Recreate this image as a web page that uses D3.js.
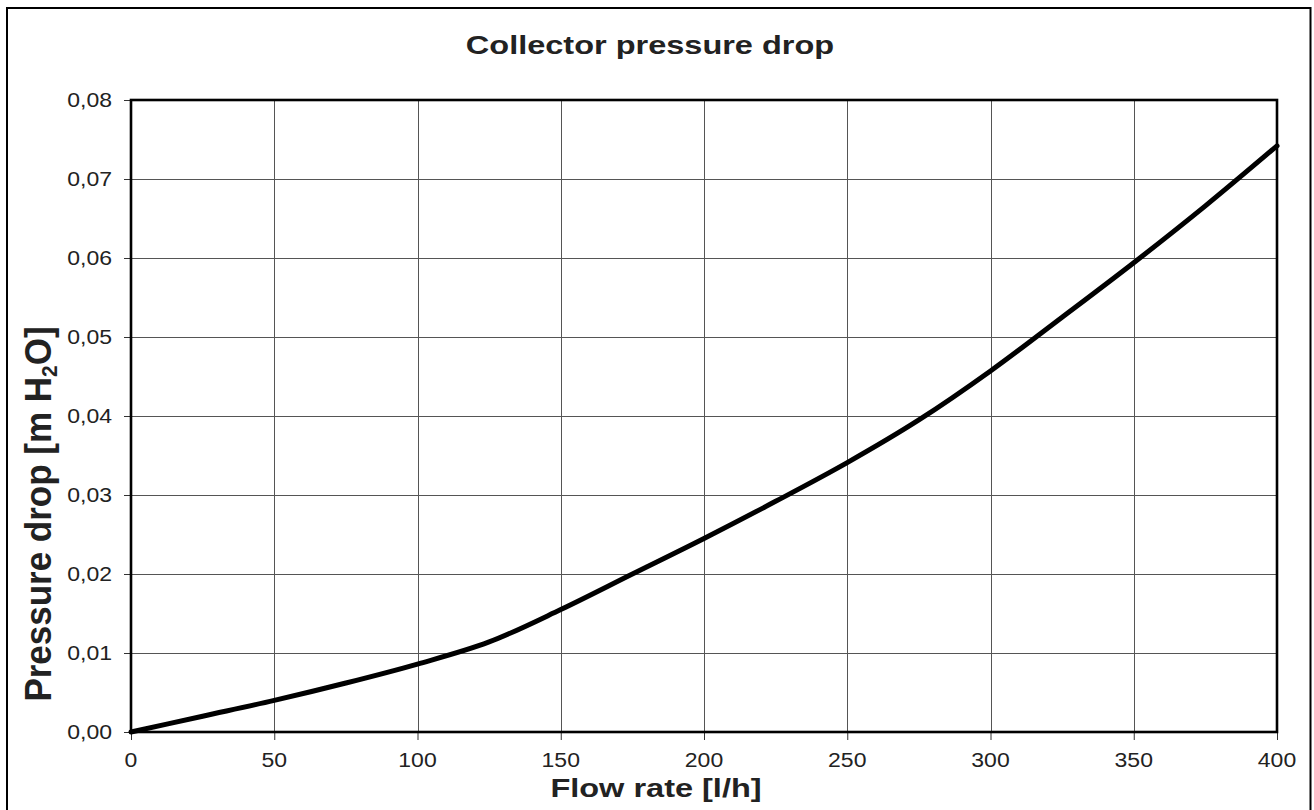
<!DOCTYPE html>
<html>
<head>
<meta charset="utf-8">
<script src="https://cdn.jsdelivr.net/npm/d3@7"></script>
<style>
  body { margin: 0; background: #fff; }
  svg { display: block; font-family: "Liberation Sans", Arial, sans-serif; }
</style>
</head>
<body>
<svg id="chart"></svg>
<script>
// values
const flowRate = [0, 25, 50, 75, 100, 125, 150, 175, 200, 225, 250, 275, 300, 325, 350, 375, 400];
const pressureDrop = [0, 0.0020, 0.0040, 0.0062, 0.0086, 0.0114, 0.0155, 0.0200, 0.0245, 0.0292, 0.0341, 0.0395, 0.0457, 0.0525, 0.0594, 0.0666, 0.0742];
const xTicks = [0, 50, 100, 150, 200, 250, 300, 350, 400];
const yTicks = [0, 0.01, 0.02, 0.03, 0.04, 0.05, 0.06, 0.07, 0.08];

const width = 1314, height = 810;
const plot = {left: 131, right: 1277, top: 100, bottom: 732};
const stretch = 1.25; // text in the picture is wider than normal

const svg = d3.select('#chart').attr('width', width).attr('height', height);

// outer frame
svg.append('rect')
  .attr('x', 7).attr('y', 8)
  .attr('width', 1303.5).attr('height', 840)
  .attr('fill', 'none').attr('stroke', '#000').attr('stroke-width', 2);

const x = d3.scaleLinear().domain([0, 400]).range([plot.left, plot.right]);
const y = d3.scaleLinear().domain([0, 0.08]).range([plot.bottom, plot.top]);

const fmt = d3.formatLocale({decimal: ',', thousands: '.', grouping: [3], currency: ['', '']}).format('.2f');

// grid
svg.append('g').selectAll('line.vg')
  .data(xTicks.slice(1, -1))
  .join('line')
    .attr('x1', d => Math.round(x(d)) + 0.5).attr('x2', d => Math.round(x(d)) + 0.5)
    .attr('y1', plot.top).attr('y2', plot.bottom)
    .attr('stroke', '#555').attr('stroke-width', 1);
svg.append('g').selectAll('line.hg')
  .data(yTicks.slice(1, -1))
  .join('line')
    .attr('y1', d => Math.round(y(d)) + 0.5).attr('y2', d => Math.round(y(d)) + 0.5)
    .attr('x1', plot.left).attr('x2', plot.right)
    .attr('stroke', '#555').attr('stroke-width', 1);

// tick marks via d3 axes (labels drawn by hand so they can be stretched)
svg.append('g')
  .attr('transform', `translate(${plot.left},0)`)
  .call(d3.axisLeft(y).tickValues(yTicks).tickSize(7).tickFormat(''))
  .call(g => g.select('.domain').remove())
  .call(g => g.selectAll('line').attr('stroke', '#333'));
svg.append('g')
  .attr('transform', `translate(0,${plot.bottom})`)
  .call(d3.axisBottom(x).tickValues(xTicks).tickSize(8).tickFormat(''))
  .call(g => g.select('.domain').remove())
  .call(g => g.selectAll('line').attr('stroke', '#333'));

// tick labels
svg.append('g').selectAll('text')
  .data(yTicks)
  .join('text')
    .attr('transform', d => `translate(112,${y(d) + 6.8}) scale(1.18,1)`)
    .attr('text-anchor', 'end')
    .attr('font-size', 19.5)
    .attr('fill', '#222')
    .text(d => fmt(d));
svg.append('g').selectAll('text')
  .data(xTicks)
  .join('text')
    .attr('transform', d => `translate(${x(d)},767) scale(1.18,1)`)
    .attr('text-anchor', 'middle')
    .attr('font-size', 19.5)
    .attr('fill', '#222')
    .text(d => d);

// plot frame
svg.append('rect')
  .attr('x', plot.left).attr('y', plot.top)
  .attr('width', plot.right - plot.left).attr('height', plot.bottom - plot.top)
  .attr('fill', 'none').attr('stroke', '#000').attr('stroke-width', 2.6);

// curve
const line = d3.line()
  .x((d, i) => x(flowRate[i]))
  .y(d => y(d))
  .curve(d3.curveMonotoneX);
svg.append('path')
  .datum(pressureDrop)
  .attr('d', line)
  .attr('fill', 'none')
  .attr('stroke', '#000')
  .attr('stroke-width', 5)
  .attr('stroke-linecap', 'round');

// title
svg.append('text')
  .attr('transform', `translate(650,54) scale(${stretch},1)`)
  .attr('text-anchor', 'middle')
  .attr('font-size', 26).attr('font-weight', 'bold')
  .attr('fill', '#222')
  .text('Collector pressure drop');

// axis titles
svg.append('text')
  .attr('transform', `translate(656,797) scale(${stretch},1)`)
  .attr('text-anchor', 'middle')
  .attr('font-size', 26).attr('font-weight', 'bold')
  .attr('fill', '#222')
  .text('Flow rate [l/h]');

const yt = svg.append('text')
  .attr('transform', `translate(51,514) scale(1.08,1) rotate(-90)`)
  .attr('text-anchor', 'middle')
  .attr('font-size', 35).attr('font-weight', 'bold')
  .attr('fill', '#222');
yt.append('tspan').text('Pressure drop [m H');
yt.append('tspan').attr('font-size', 21).attr('dy', 6).text('2');
yt.append('tspan').attr('dy', -6).text('O]');
</script>
</body>
</html>
